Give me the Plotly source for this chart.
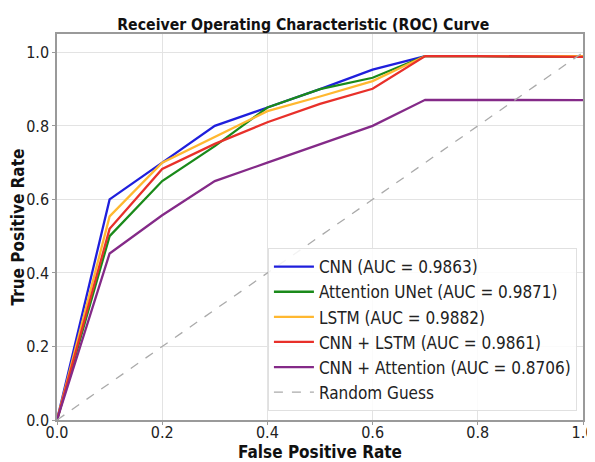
import plotly.graph_objects as go

fpr = [0.0, 0.1, 0.2, 0.3, 0.4, 0.5, 0.6, 0.7, 0.8, 0.9, 1.0]
cnn = [0.0, 0.60, 0.70, 0.80, 0.85, 0.90, 0.953, 0.99, 0.99, 0.988, 0.988]
att_unet = [0.0, 0.50, 0.65, 0.745, 0.85, 0.90, 0.931, 0.99, 0.99, 0.988, 0.988]
lstm = [0.0, 0.554, 0.70, 0.769, 0.84, 0.88, 0.922, 0.99, 0.99, 0.99, 0.99]
cnn_lstm = [0.0, 0.52, 0.683, 0.751, 0.81, 0.86, 0.901, 0.99, 0.99, 0.988, 0.988]
cnn_att = [0.0, 0.453, 0.557, 0.65, 0.70, 0.75, 0.80, 0.871, 0.871, 0.87, 0.87]
rand_x = [0.0, 1.0]
rand_y = [0.0, 1.0]

names = ["CNN (AUC = 0.9863)", "Attention UNet (AUC = 0.9871)", "LSTM (AUC = 0.9882)",
         "CNN + LSTM (AUC = 0.9861)", "CNN + Attention (AUC = 0.8706)"]
series = [cnn, att_unet, lstm, cnn_lstm, cnn_att]
colors = ["#1f1fdc", "#1a8a1a", "#ffb830", "#e8302a", "#842a88"]

FONT = "DejaVu Sans Condensed, DejaVu Sans"

fig = go.Figure()
for n, s, c in zip(names, series, colors):
    fig.add_trace(go.Scatter(x=fpr, y=s, mode="lines", name=n,
                             line=dict(color=c, width=2.3)))
fig.add_trace(go.Scatter(x=rand_x, y=rand_y, mode="lines", name="Random Guess",
                         line=dict(color="#aaaaaa", width=1.3, dash="dash")))

axis_common = dict(showgrid=True, gridcolor="#e3e3e3", gridwidth=1,
                   showline=True, linecolor="#9a9a9a", linewidth=1.5, mirror=True,
                   ticks="outside", ticklen=3, tickcolor="#9a9a9a", zeroline=False,
                   tickfont=dict(size=16, color="#222"), tickformat=".1f", dtick=0.2,
                   automargin=False)

# page body has an 8px margin, so the figure is sized to fit the window
fig.update_layout(
    width=587, height=454,
    margin=dict(l=49, r=12, t=26, b=42),
    paper_bgcolor="white", plot_bgcolor="white",
    font=dict(family=FONT, color="#222"),
    title=dict(text="<b>Receiver Operating Characteristic (ROC) Curve</b>",
               x=0.503, xanchor="center", y=0.963, yanchor="middle",
               font=dict(size=15.7, color="#111", family=FONT)),
    xaxis=dict(range=[0, 1], ticklabelstandoff=-6,
               title=dict(text="<b>False Positive Rate</b>", standoff=4,
                          font=dict(size=17, color="#111")), **axis_common),
    yaxis=dict(range=[0, 1.05], title=dict(text="<b>True Positive Rate</b>", standoff=3,
                                            font=dict(size=17, color="#111")), **axis_common),
    legend=dict(x=0.401, y=0.023, xanchor="left", yanchor="bottom",
                bgcolor="rgba(255,255,255,0.85)", bordercolor="#e0e0e0", borderwidth=1,
                font=dict(size=17, color="#222"), itemwidth=40),
)

fig.write_html("out.html")
